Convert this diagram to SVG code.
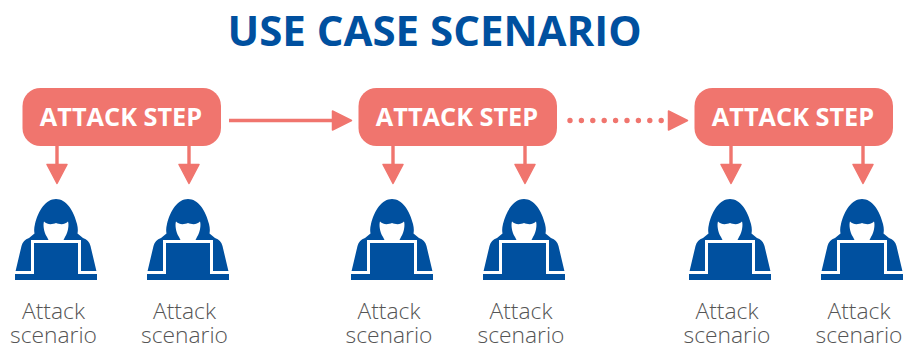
<svg xmlns="http://www.w3.org/2000/svg" xmlns:xlink="http://www.w3.org/1999/xlink" width="903" height="347" viewBox="0 0 903 347">
<style>
text{font-family:"Open Sans","Noto Sans","Liberation Sans",sans-serif;text-anchor:middle}
.title{font-size:42px;font-weight:700;fill:#00509f}
.step{fill:#f0756e}
.steplabel{font-size:25.3px;font-weight:700;fill:#fff}
.sc{font-size:22.800px;font-weight:300;fill:#555}
.conn{stroke:#f0756e;stroke-width:3.4;fill:none}
.dots{stroke:#f0756e;stroke-width:5.4;stroke-linecap:round;stroke-dasharray:0 11.4;fill:none}
.head{fill:#f0756e;stroke:#f0756e;stroke-width:1.5;stroke-linejoin:round}
.blue{fill:#00509f}
.face{fill:#fff}
.lap{fill:none;stroke:#fff;stroke-width:3}
</style>
<defs>
<g id="hacker">
<path class="blue" d="M-41 74.500V81H41V74.500L34.500 47C33.500 43 31 40.500 27 39L21.500 34.500C22 32 22 29 21 25C17.500 11 10 0 0 0C-10 0 -17.500 11 -21 25C-22 29 -22 32 -21.500 34.500L-27 39C-31 40.500 -33.500 43 -34.500 47Z"/>
<path class="face" d="M-12 22.500C-8 26.500 -3 25 0 24C3 25 8 26.500 12 22.500C13 25 12.500 33 9 38L7 42H-7L-9 38C-12.500 33 -13 25 -12 22.500Z"/>
<path class="lap" d="M-41 73.500H-23.500V42.500H23.500V73.500H41"/>
</g>
</defs>
<text class="title" x="434.500" y="46">USE CASE SCENARIO</text>
<g id="connectors">
<path class="conn" d="M229 120.500H335"/>
<path class="head" d="M332.500 111V130L351.500 120.500Z"/>
<path class="dots" d="M570 120.500H662"/>
<path class="head" d="M668.500 111V130L687.500 120.500Z"/>
<path class="conn" d="M57 146V166M189 146V166M393 146V166M525 146V166M731 146V166M863 146V166"/>
<path class="head" d="M47 164.500H67L57 183.500Z"/>
<path class="head" d="M179 164.500H199L189 183.500Z"/>
<path class="head" d="M383 164.500H403L393 183.500Z"/>
<path class="head" d="M515 164.500H535L525 183.500Z"/>
<path class="head" d="M721 164.500H741L731 183.500Z"/>
<path class="head" d="M853 164.500H873L863 183.500Z"/>
</g>
<g id="step1"><rect class="step" x="22.500" y="88" width="198.500" height="58" rx="18"/><text class="steplabel" x="121" y="126">ATTACK STEP</text></g>
<g id="step2"><rect class="step" x="358.500" y="88" width="198.500" height="58" rx="18"/><text class="steplabel" x="457" y="126">ATTACK STEP</text></g>
<g id="step3"><rect class="step" x="694.500" y="88" width="198.500" height="58" rx="18"/><text class="steplabel" x="793" y="126">ATTACK STEP</text></g>
<g id="scenario1"><use xlink:href="#hacker" href="#hacker" x="56" y="199"/><text class="sc" y="319"><tspan x="53.500">Attack</tspan><tspan x="53.500" dy="24">scenario</tspan></text></g>
<g id="scenario2"><use xlink:href="#hacker" href="#hacker" x="188" y="199"/><text class="sc" y="319"><tspan x="184.500">Attack</tspan><tspan x="184.500" dy="24">scenario</tspan></text></g>
<g id="scenario3"><use xlink:href="#hacker" href="#hacker" x="392" y="199"/><text class="sc" y="319"><tspan x="389">Attack</tspan><tspan x="389" dy="24">scenario</tspan></text></g>
<g id="scenario4"><use xlink:href="#hacker" href="#hacker" x="524" y="199"/><text class="sc" y="319"><tspan x="521">Attack</tspan><tspan x="521" dy="24">scenario</tspan></text></g>
<g id="scenario5"><use xlink:href="#hacker" href="#hacker" x="730" y="199"/><text class="sc" y="319"><tspan x="727">Attack</tspan><tspan x="727" dy="24">scenario</tspan></text></g>
<g id="scenario6"><use xlink:href="#hacker" href="#hacker" x="862" y="199"/><text class="sc" y="319"><tspan x="859">Attack</tspan><tspan x="859" dy="24">scenario</tspan></text></g>
</svg>
